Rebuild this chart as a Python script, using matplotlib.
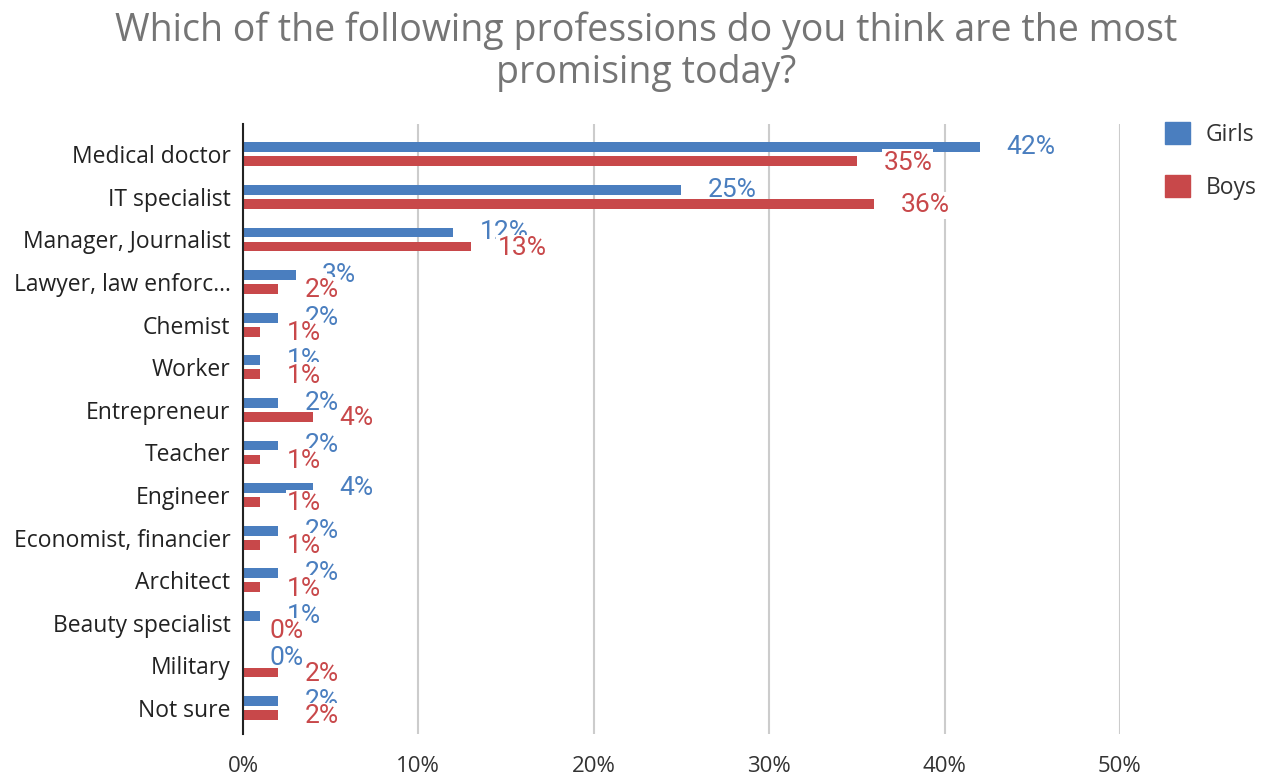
import matplotlib.pyplot as plt
import matplotlib.patches as mpatches
import numpy as np

categories = ["Medical doctor", "IT specialist", "Manager, Journalist",
              "Lawyer, law enforc...", "Chemist", "Worker", "Entrepreneur",
              "Teacher", "Engineer", "Economist, financier", "Architect",
              "Beauty specialist", "Military", "Not sure"]
girls = [42, 25, 12, 3, 2, 1, 2, 2, 4, 2, 2, 1, 0, 2]
boys = [35, 36, 13, 2, 1, 1, 4, 1, 1, 1, 1, 0, 2, 2]
xticks = [0, 10, 20, 30, 40, 50]

blue = "#4a7ebf"
red = "#c8484a"

fig = plt.figure(figsize=(12.74, 7.8), dpi=100)
ax = fig.add_axes([0.1907, 0.0595, 0.6884, 0.781])

y = np.arange(len(categories))
h = 0.23
off = 0.165
ax.barh(y - off, girls, height=h, color=blue, zorder=3)
ax.barh(y + off, boys, height=h, color=red, zorder=3)

for yi, g, b in zip(y, girls, boys):
    ax.annotate(f"{g}%", (g, yi - off), xytext=(19, 0), textcoords="offset points",
                ha="left", va="center", color=blue, fontsize=19,
                family="Roboto", zorder=4)
    ax.annotate(f"{b}%", (b, yi + off), xytext=(19, -1), textcoords="offset points",
                ha="left", va="center", color=red, fontsize=19,
                family="Roboto", zorder=5,
                bbox=dict(boxstyle="square,pad=0.05", fc="white", ec="none"))

ax.set_xlim(0, 50)
ax.set_ylim(13.6, -0.7)
ax.set_xticks(xticks)
ax.set_xticklabels([f"{t}%" for t in xticks], family="Open Sans", fontsize=16, color="#333333")
ax.set_yticks(y)
ax.set_yticklabels(categories, family="Open Sans", fontsize=16.5, color="#222222")
ax.tick_params(axis="x", length=0, pad=16)
ax.tick_params(axis="y", length=0, pad=9)
ax.grid(axis="x", color="#cccccc", linewidth=1.5, zorder=0)
for s in ["top", "right", "bottom"]:
    ax.spines[s].set_visible(False)
ax.spines["left"].set_color("#222222")
ax.spines["left"].set_linewidth(1.5)
ax.spines["left"].set_zorder(6)

fig.text(0.507, 0.985, "Which of the following professions do you think are the most\npromising today?",
         ha="center", va="top", fontsize=27, color="#757575", family="Open Sans",
         linespacing=1.12)

handles = [mpatches.Patch(color=blue, label="Girls"), mpatches.Patch(color=red, label="Boys")]
fig.legend(handles=handles, loc="upper left", bbox_to_anchor=(0.898, 0.87),
           frameon=False, prop={"family": "Open Sans", "size": 16.5},
           handlelength=1.1, handleheight=1.1, labelspacing=1.25, handletextpad=0.7,
           labelcolor="#333333")

fig.savefig("out.png", dpi=100)
